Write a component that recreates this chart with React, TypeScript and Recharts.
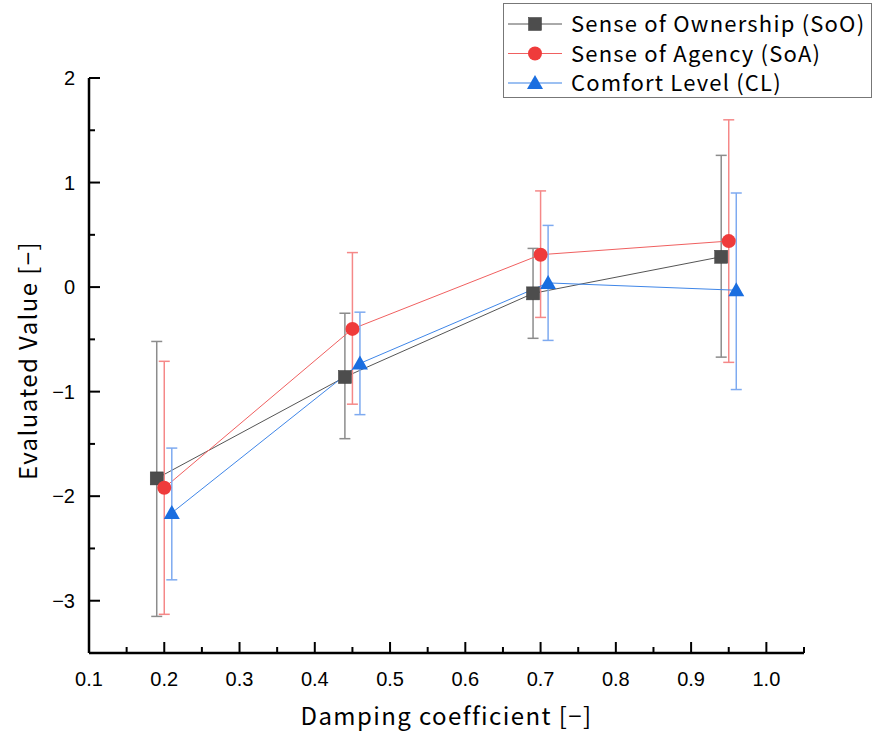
import React from "react";
import {
  ComposedChart, Line, XAxis, YAxis, ErrorBar, Legend, Label,
} from "recharts";

// damping coefficient positions (series are offset slightly in the source)
const xSoO = [0.19, 0.44, 0.69, 0.94];
const xSoA = [0.2, 0.45, 0.7, 0.95];
const xCL = [0.21, 0.46, 0.71, 0.96];

// means
const ySoO = [-1.83, -0.86, -0.06, 0.29];
const ySoA = [-1.92, -0.4, 0.31, 0.44];
const yCL = [-2.16, -0.73, 0.04, -0.03];

// error bar ends
const loSoO = [-3.15, -1.45, -0.49, -0.67];
const hiSoO = [-0.52, -0.25, 0.37, 1.26];
const loSoA = [-3.13, -1.12, -0.29, -0.72];
const hiSoA = [-0.71, 0.33, 0.92, 1.6];
const loCL = [-2.8, -1.22, -0.51, -0.98];
const hiCL = [-1.54, -0.24, 0.59, 0.9];

const xTicks = [0.1, 0.15, 0.2, 0.25, 0.3, 0.35, 0.4, 0.45, 0.5, 0.55, 0.6, 0.65, 0.7, 0.75, 0.8, 0.85, 0.9, 0.95, 1.0, 1.05];
const xLabels = ["0.1", "0.2", "0.3", "0.4", "0.5", "0.6", "0.7", "0.8", "0.9", "1.0"];
const yTicks = [-3.5, -3, -2.5, -2, -1.5, -1, -0.5, 0, 0.5, 1, 1.5, 2];

const seriesNames = ["Sense of Ownership (SoO)", "Sense of Agency (SoA)", "Comfort Level (CL)"];

const build = (xs: number[], ys: number[], lo: number[], hi: number[]) =>
  xs.map((x, i) => ({ x, y: ys[i], err: [ys[i] - lo[i], hi[i] - ys[i]] }));

const soo = build(xSoO, ySoO, loSoO, hiSoO);
const soa = build(xSoA, ySoA, loSoA, hiSoA);
const cl = build(xCL, yCL, loCL, hiCL);

const W = 875;
const H = 734;
const LEFT = 89;
const BOTTOM = 653;
const TICK_FONT = "'Liberation Sans', Arial, sans-serif";
const TEXT_FONT = "'Noto Sans CJK JP', 'Noto Sans', sans-serif";

const Square = ({ cx, cy, fill }: any) => (
  <rect x={cx - 6.5} y={cy - 6.5} width={13} height={13} fill={fill} stroke="#3a3a3a" strokeWidth={0.5} />
);
const Circle = ({ cx, cy, fill }: any) => <circle cx={cx} cy={cy} r={7} fill={fill} />;
const Triangle = ({ cx, cy, fill }: any) => (
  <polygon points={`${cx},${cy - 8} ${cx + 8},${cy + 6} ${cx - 8},${cy + 6}`} fill={fill} />
);

const YTick = (p: any) => {
  const v = p.payload.value;
  const major = Number.isInteger(v);
  const cy = p.payload.coordinate;
  return (
    <g>
      <line x1={LEFT} x2={LEFT + (major ? 11 : 6)} y1={cy} y2={cy} stroke="#000" strokeWidth={2} />
      {major && v >= -3 && (
        <text x={LEFT - 14} y={cy} dy={7} textAnchor="end" fontSize={20} fontFamily={TICK_FONT} fill="#000">
          {v === 0 ? "0" : v < 0 ? `−${Math.abs(v)}` : String(v)}
        </text>
      )}
    </g>
  );
};

const XTick = (p: any) => {
  const v = p.payload.value;
  const cx = p.payload.coordinate;
  const idx = Math.round((v - 0.1) / 0.1);
  const major = Math.abs(v - (0.1 + idx * 0.1)) < 1e-6;
  return (
    <g>
      <line x1={cx} x2={cx} y1={BOTTOM} y2={BOTTOM - (major ? 11 : 6)} stroke="#000" strokeWidth={2} />
      {major && (
        <text x={cx} y={BOTTOM + 33} textAnchor="middle" fontSize={20} fontFamily={TICK_FONT} fill="#000">
          {xLabels[idx]}
        </text>
      )}
    </g>
  );
};

const legendItems = [
  { name: seriesNames[0], line: "#555555", lw: 1, Shape: Square, fill: "#4d4d4d" },
  { name: seriesNames[1], line: "#f06060", lw: 1, Shape: Circle, fill: "#ef3b3b" },
  { name: seriesNames[2], line: "#9cc0f2", lw: 2, Shape: Triangle, fill: "#1a6ee0" },
];

const LegendBox = () => (
  <div style={{ width: 369, height: 95, border: "1.5px solid #777", background: "#fff", boxSizing: "border-box" }}>
    <svg width={366} height={92}>
      {legendItems.map((it, i) => {
        const cy = 20 + i * 29.5;
        return (
          <g key={it.name}>
            <line x1={4} x2={58} y1={cy} y2={cy} stroke={it.line} strokeWidth={it.lw} />
            <it.Shape cx={31} cy={cy} fill={it.fill} />
            <text x={67} y={cy} dy={8} fontSize={22} letterSpacing={1.2} fontFamily={TEXT_FONT} fill="#000">{it.name}</text>
          </g>
        );
      })}
    </svg>
  </div>
);

export default function App() {
  return (
    <div style={{ position: "absolute", left: 0, top: 0, width: W, height: H, background: "#fff" }}>
      <ComposedChart width={W} height={H} margin={{ top: 78, right: 71, bottom: 0, left: 0 }}>
        <XAxis
          type="number"
          dataKey="x"
          domain={[0.1, 1.05]}
          ticks={xTicks}
          interval={0}
          allowDataOverflow
          height={81}
          axisLine={{ stroke: "#000", strokeWidth: 2.5 }}
          tickLine={false}
          tickSize={0}
          tick={<XTick />}
        >
          <Label
            content={() => (
              <text x={(LEFT + W - 71) / 2} y={725} textAnchor="middle" fontSize={24} letterSpacing={1.4} fontFamily={TEXT_FONT} fill="#000">
                Damping coefficient [−]
              </text>
            )}
          />
        </XAxis>
        <YAxis
          type="number"
          dataKey="y"
          domain={[-3.5, 2]}
          ticks={yTicks}
          interval={0}
          allowDataOverflow
          width={LEFT}
          axisLine={{ stroke: "#000", strokeWidth: 2.5 }}
          tickLine={false}
          tickSize={0}
          tick={<YTick />}
        >
          <Label
            content={() => (
              <text
                x={37}
                y={(78 + BOTTOM) / 2 - 5}
                transform={`rotate(-90 37 ${(78 + BOTTOM) / 2 - 5})`}
                textAnchor="middle"
                fontSize={24}
                letterSpacing={1.4}
                fontFamily={TEXT_FONT}
                fill="#000"
              >
                Evaluated Value [−]
              </text>
            )}
          />
        </YAxis>
        <Legend
          layout="vertical"
          align="center"
          verticalAlign="middle"
          wrapperStyle={{ top: 3, left: 503, width: 369 }}
          content={() => <LegendBox />}
        />
        <Line
          data={soo}
          dataKey="y"
          name={seriesNames[0]}
          stroke="#555555"
          strokeWidth={1}
          isAnimationActive={false}
          dot={(p: any) => <Square key={`s${p.index}`} cx={p.cx} cy={p.cy} fill="#4d4d4d" />}
          activeDot={false}
        >
          <ErrorBar dataKey="err" direction="y" width={5.5} stroke="#8c8c8c" strokeWidth={1.5} isAnimationActive={false} />
        </Line>
        <Line
          data={soa}
          dataKey="y"
          name={seriesNames[1]}
          stroke="#f06060"
          strokeWidth={1}
          isAnimationActive={false}
          dot={(p: any) => <Circle key={`c${p.index}`} cx={p.cx} cy={p.cy} fill="#ef3b3b" />}
          activeDot={false}
        >
          <ErrorBar dataKey="err" direction="y" width={5.5} stroke="#f58888" strokeWidth={1.5} isAnimationActive={false} />
        </Line>
        <Line
          data={cl}
          dataKey="y"
          name={seriesNames[2]}
          stroke="#3f86e8"
          strokeWidth={1}
          isAnimationActive={false}
          dot={(p: any) => <Triangle key={`t${p.index}`} cx={p.cx} cy={p.cy} fill="#1a6ee0" />}
          activeDot={false}
        >
          <ErrorBar dataKey="err" direction="y" width={5.5} stroke="#7eaaf0" strokeWidth={1.5} isAnimationActive={false} />
        </Line>
      </ComposedChart>
    </div>
  );
}
